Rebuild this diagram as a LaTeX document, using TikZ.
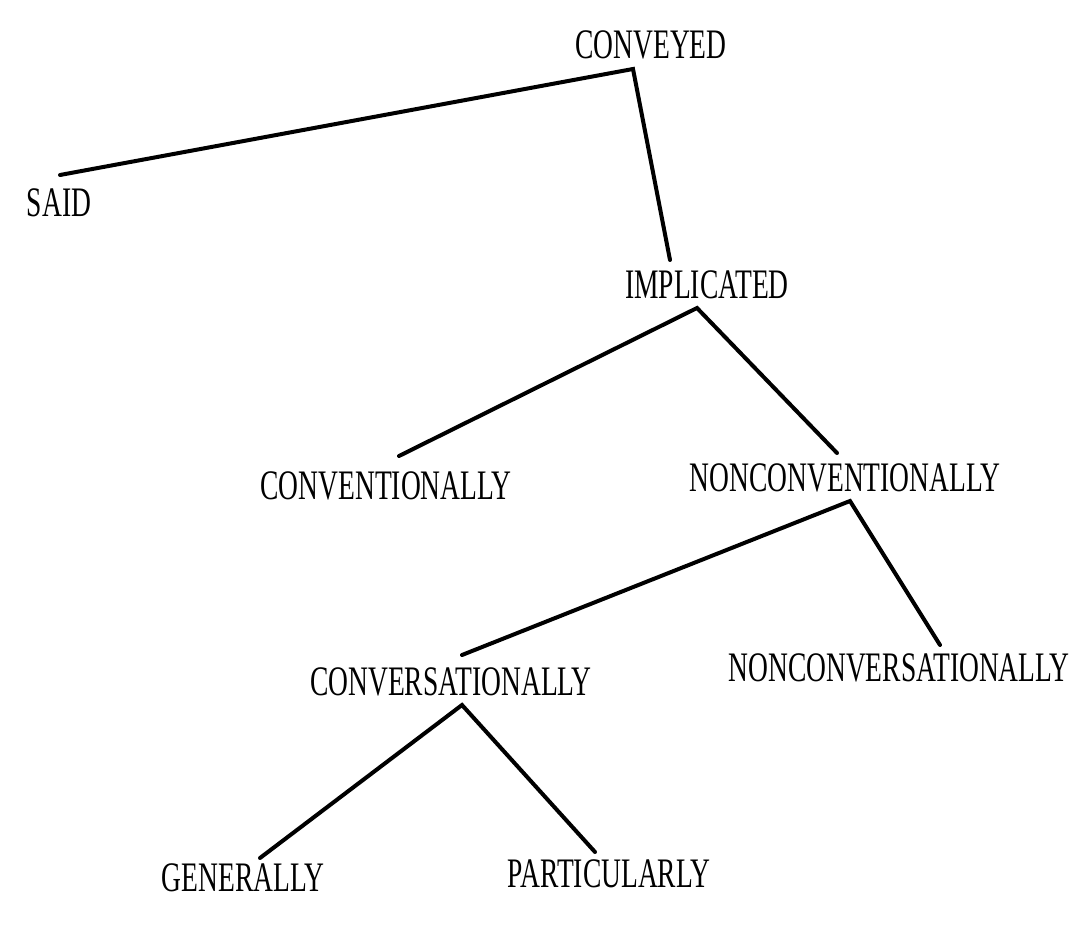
\documentclass[tikz,border=0pt]{standalone}
\usepackage{fontspec}
\newfontfamily\treefont[FakeStretch=0.655]{Liberation Serif}
\begin{document}
\begin{tikzpicture}[x=1pt,y=-1pt,
  lbl/.style={inner sep=0pt, anchor=center, font=\treefont\fontsize{42}{42}\selectfont},
  branch/.style={line width=4pt, line join=miter, line cap=round}]
\useasboundingbox[fill=white] (0,0) rectangle (1083,941);

% category labels
\node[lbl] (conveyed) at (651,45) {CONVEYED};
\node[lbl] (said) at (59,203) {SAID};
\node[lbl] (implicated) at (707,285) {IMPLICATED};
\node[lbl] (conv) at (386,486) {CONVENTIONALLY};
\node[lbl] (nonconv) at (845,478) {NONCONVENTIONALLY};
\node[lbl] (convers) at (451,682) {CONVERSATIONALLY};
\node[lbl] (nonconvers) at (899,668) {NONCONVERSATIONALLY};
\node[lbl] (gen) at (243,878) {GENERALLY};
\node[lbl] (part) at (609,874) {PARTICULARLY};

% branches
\draw[branch] ([shift={(1,-28)}]said.center) -- ([shift={(-18,24)}]conveyed.center)
  -- ([shift={(-37,-25)}]implicated.center);
\draw[branch] ([shift={(13,-30)}]conv.center) -- ([shift={(-10,23)}]implicated.center)
  -- ([shift={(-8,-25)}]nonconv.center);
\draw[branch] ([shift={(11,-27)}]convers.center) -- ([shift={(5,23)}]nonconv.center)
  -- ([shift={(41,-23)}]nonconvers.center);
\draw[branch] ([shift={(17,-20)}]gen.center) -- ([shift={(11,23)}]convers.center)
  -- ([shift={(-14,-22)}]part.center);
\end{tikzpicture}
\end{document}
